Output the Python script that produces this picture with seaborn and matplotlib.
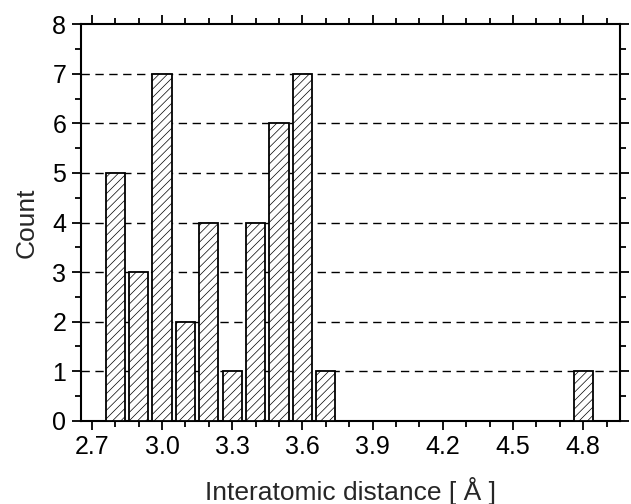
import numpy as np
import pandas as pd
import matplotlib
matplotlib.use('Agg')
import matplotlib.pyplot as plt
import seaborn as sns
from matplotlib.ticker import MultipleLocator

#--------------------------------------------------------
distance=[2.8, 2.9, 3.0, 3.1, 3.2, 3.3, 3.4, 3.5, 3.6, 3.7, 4.8]
count=[5, 3, 7, 2, 4, 1, 4, 6, 7, 1, 1]
xticks=[2.7, 3.0, 3.3, 3.6, 3.9, 4.2, 4.5, 4.8]

df=pd.DataFrame({'distance':distance, 'count':count})

#--------------------------------------------------------
sns.set_style('ticks')
plt.rcParams['font.family']=['Liberation Sans', 'DejaVu Sans']
plt.rcParams['hatch.linewidth']=0.5
plt.rcParams['hatch.color']='black'

fig=plt.figure(figsize=(6.31, 5.04), dpi=100)
ax=fig.add_axes([0.128, 0.165, 0.855, 0.787])

sns.barplot(data=df, x='distance', y='count', native_scale=True, width=0.82,
	color='white', edgecolor='black', linewidth=1.3, hatch='////', ax=ax, zorder=3)

#grid
for y in range(1, 8):
	ax.axhline(y, color='black', lw=1.0, ls=(0, (6, 4)), zorder=1)

#adjust
ax.set_xlim(2.653, 4.958)
ax.set_ylim(0, 8)
ax.set_xticks(xticks)
ax.set_xticklabels([f'{v:.1f}' for v in xticks])
ax.xaxis.set_minor_locator(MultipleLocator(0.1))
ax.yaxis.set_major_locator(MultipleLocator(1))
ax.yaxis.set_minor_locator(MultipleLocator(0.5))
ax.tick_params(which='both', direction='out', top=True, right=True, width=1.3, color='black',
	labelsize=18, labelcolor='black', pad=4)
ax.tick_params(which='major', length=6.5)
ax.tick_params(which='minor', length=4.3)
for s in ax.spines.values():
	s.set_linewidth(1.5)
	s.set_color('black')
	s.set_visible(True)
ax.set_xlabel('Interatomic distance [ Å ]', fontsize=19, labelpad=13)
ax.set_ylabel('Count', fontsize=19, labelpad=10)

#save
plt.savefig('out.png', dpi=100)
plt.close()
